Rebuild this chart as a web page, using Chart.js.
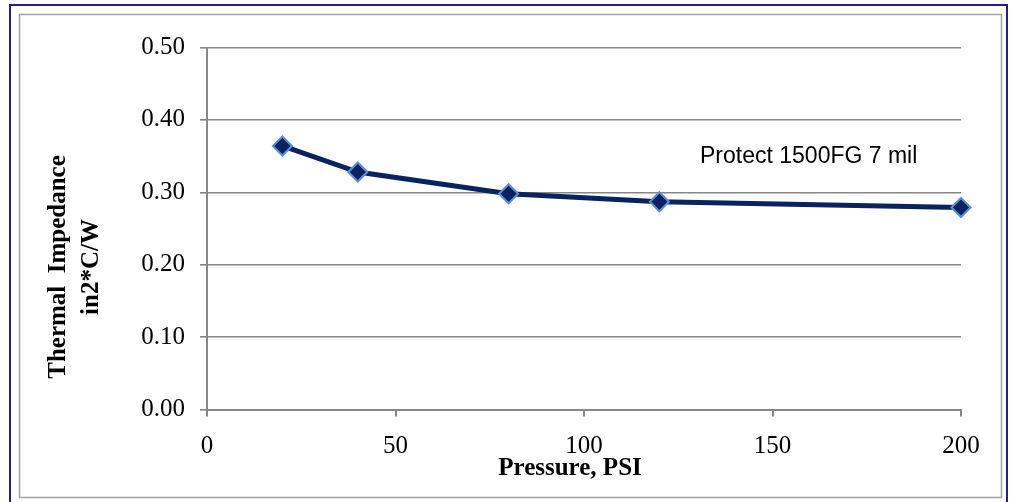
<!DOCTYPE html>
<html>
<head>
<meta charset="utf-8">
<script src="https://cdn.jsdelivr.net/npm/chart.js@4"></script>
<style>
  html, body { margin: 0; padding: 0; background: #fff; }
  #wrap { width: 1013px; height: 502px; position: relative; }
</style>
</head>
<body>
<div id="wrap"><canvas id="chart"></canvas></div>
<script>
// values
const pressure = [20, 40, 80, 120, 200]
const impedance = [0.364, 0.328, 0.298, 0.287, 0.279]
const seriesName = "Protect 1500FG 7 mil"
const xTitle = "Pressure, PSI"
const yTitle = ["Thermal  Impedance", "in2*C/W"]

const serif = '"Liberation Serif", "Times New Roman", serif'
const gray = "#878787"
const navy = "#0b2261"

// frame, axis titles and series label
const decorPlugin = {
  id: "decor",
  beforeDraw(chart) {
    const ctx = chart.ctx
    ctx.save()
    ctx.fillStyle = "#fff"
    ctx.fillRect(0, 0, chart.width, chart.height)
    ctx.strokeStyle = "#26207e"
    ctx.lineWidth = 2
    ctx.strokeRect(10, 5, 997, 505)
    ctx.strokeStyle = "#a3a3a3"
    ctx.lineWidth = 1.5
    ctx.strokeRect(19.5, 14.5, 982, 483)
    ctx.restore()
  },
  afterDraw(chart) {
    const ctx = chart.ctx
    ctx.save()
    ctx.fillStyle = "#000"
    ctx.font = "bold 25px " + serif
    ctx.textAlign = "center"
    ctx.textBaseline = "alphabetic"
    ctx.fillText(xTitle, 570, 475)

    ctx.translate(0, 267)
    ctx.rotate(-Math.PI / 2)
    ctx.fillText(yTitle[0], 0, 65)
    ctx.fillText(yTitle[1], 0, 98)
    ctx.restore()

    ctx.save()
    ctx.fillStyle = "#000"
    ctx.font = '23px "Liberation Sans", Arial, sans-serif'
    ctx.textAlign = "left"
    ctx.fillText(seriesName, 700, 163)
    ctx.restore()
  },
}

new Chart(document.getElementById("chart"), {
  type: "line",
  data: {
    datasets: [
      {
        label: seriesName,
        data: pressure.map((p, i) => ({ x: p, y: impedance[i] })),
        borderColor: navy,
        borderWidth: 5,
        backgroundColor: navy,
        pointStyle: "rectRot",
        pointRadius: 9.5,
        pointBorderWidth: 2,
        pointBorderColor: "#5b8fd2",
        pointBackgroundColor: navy,
        tension: 0,
        clip: false,
      },
    ],
  },
  options: {
    responsive: true,
    maintainAspectRatio: false,
    animation: false,
    layout: { padding: { top: 47.5, right: 52, left: 0, bottom: 0 } },
    plugins: {
      legend: { display: false },
      tooltip: { enabled: false },
    },
    scales: {
      x: {
        type: "linear",
        min: 0,
        max: 200,
        afterFit: scale => { scale.height = 92.5 },
        ticks: {
          stepSize: 50,
          padding: 15,
          color: "#000",
          font: { family: serif, size: 25 },
        },
        grid: { drawOnChartArea: false, color: gray, lineWidth: 2, tickLength: 7 },
        border: { color: gray, width: 2 },
      },
      y: {
        min: 0,
        max: 0.5,
        afterFit: scale => { scale.width = 207 },
        ticks: {
          stepSize: 0.1,
          padding: 15,
          color: "#000",
          font: { family: serif, size: 25 },
          callback: v => v.toFixed(2),
        },
        grid: { color: gray, lineWidth: 1.6, tickLength: 7 },
        border: { color: gray, width: 2 },
      },
    },
  },
  plugins: [decorPlugin],
})
</script>
</body>
</html>
